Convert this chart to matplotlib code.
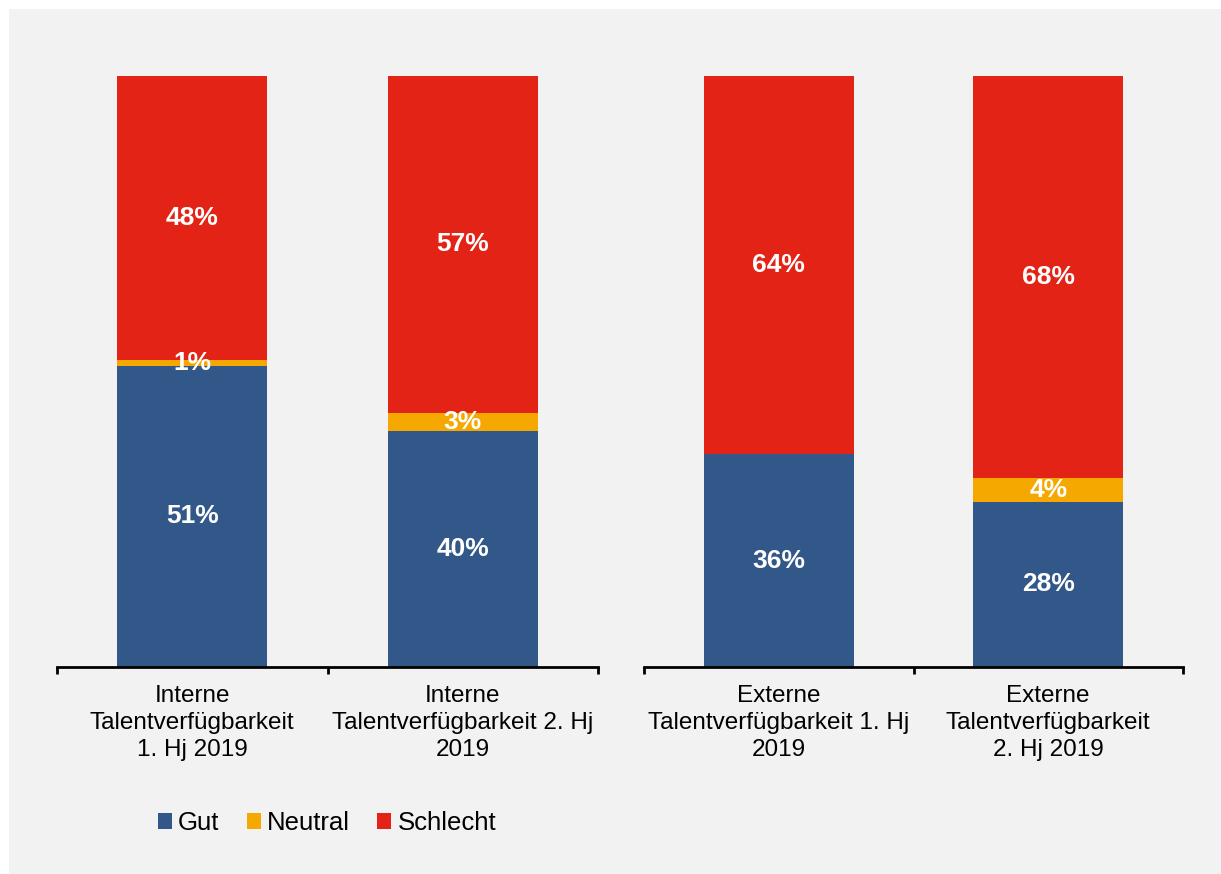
import matplotlib.pyplot as plt
from matplotlib.patches import Rectangle

plt.rcParams["font.family"] = ["Liberation Sans", "DejaVu Sans"]

# Talent availability survey, shares in percent
categories_int = ["Interne\nTalentverfügbarkeit\n1. Hj 2019",
                  "Interne\nTalentverfügbarkeit 2. Hj\n2019"]
categories_ext = ["Externe\nTalentverfügbarkeit 1. Hj\n2019",
                  "Externe\nTalentverfügbarkeit\n2. Hj 2019"]
gut_int = [51, 40]
neutral_int = [1, 3]
schlecht_int = [48, 57]
gut_ext = [36, 28]
neutral_ext = [0, 4]
schlecht_ext = [64, 68]

series_names = ["Gut", "Neutral", "Schlecht"]
colors = ["#32588a", "#f5a800", "#e32316"]
bg = "#f2f2f2"

fig = plt.figure(figsize=(12.21, 8.74), dpi=100, facecolor="white")
fig.patches.append(Rectangle((9 / 1221, 0), 1, 1 - 9 / 874, transform=fig.transFigure,
                             facecolor=bg, edgecolor="none", zorder=-10))

ax1 = fig.add_axes([57 / 1221, 207 / 874, 541 / 1221, 591 / 874])
ax2 = fig.add_axes([644 / 1221, 207 / 874, 539 / 1221, 591 / 874])


def stacked(ax, labels, gut, neutral, schlecht):
    x = list(range(len(labels)))
    width = 0.555
    bottom = [0] * len(x)
    for name, vals, col in zip(series_names, [gut, neutral, schlecht], colors):
        ax.bar(x, vals, width, bottom=bottom, color=col, label=name, zorder=2)
        for xi, b, v in zip(x, bottom, vals):
            if v > 0:
                ax.text(xi, b + v / 2, f"{v}%", ha="center", va="center",
                        color="white", fontsize=19, fontweight="bold", zorder=3)
        bottom = [b + v for b, v in zip(bottom, vals)]

    ax.set_xlim(-0.5, len(x) - 0.5)
    ax.set_ylim(0, 100)
    ax.set_facecolor("none")
    for side in ["top", "right", "left"]:
        ax.spines[side].set_visible(False)
    ax.spines["bottom"].set_linewidth(2)
    ax.set_yticks([])
    ax.set_xticks(x)
    ax.set_xticklabels(labels, fontsize=17.5, linespacing=1.29)
    ax.tick_params(axis="x", which="major", length=0, pad=13)
    ax.set_xticks([-0.5, 0.5, 1.5], minor=True)
    ax.tick_params(axis="x", which="minor", length=5, width=2, direction="out")


stacked(ax1, categories_int, gut_int, neutral_int, schlecht_int)
stacked(ax2, categories_ext, gut_ext, neutral_ext, schlecht_ext)

handles, labels = ax1.get_legend_handles_labels()
fig.legend(handles, labels, loc="center", bbox_to_anchor=(327 / 1221, 1 - 823 / 874),
           ncol=3, frameon=False, fontsize=18.5, handlelength=0.55, handleheight=0.55,
           handletextpad=0.25, columnspacing=1.05)

fig.savefig("out.png", dpi=100, facecolor=fig.get_facecolor())
